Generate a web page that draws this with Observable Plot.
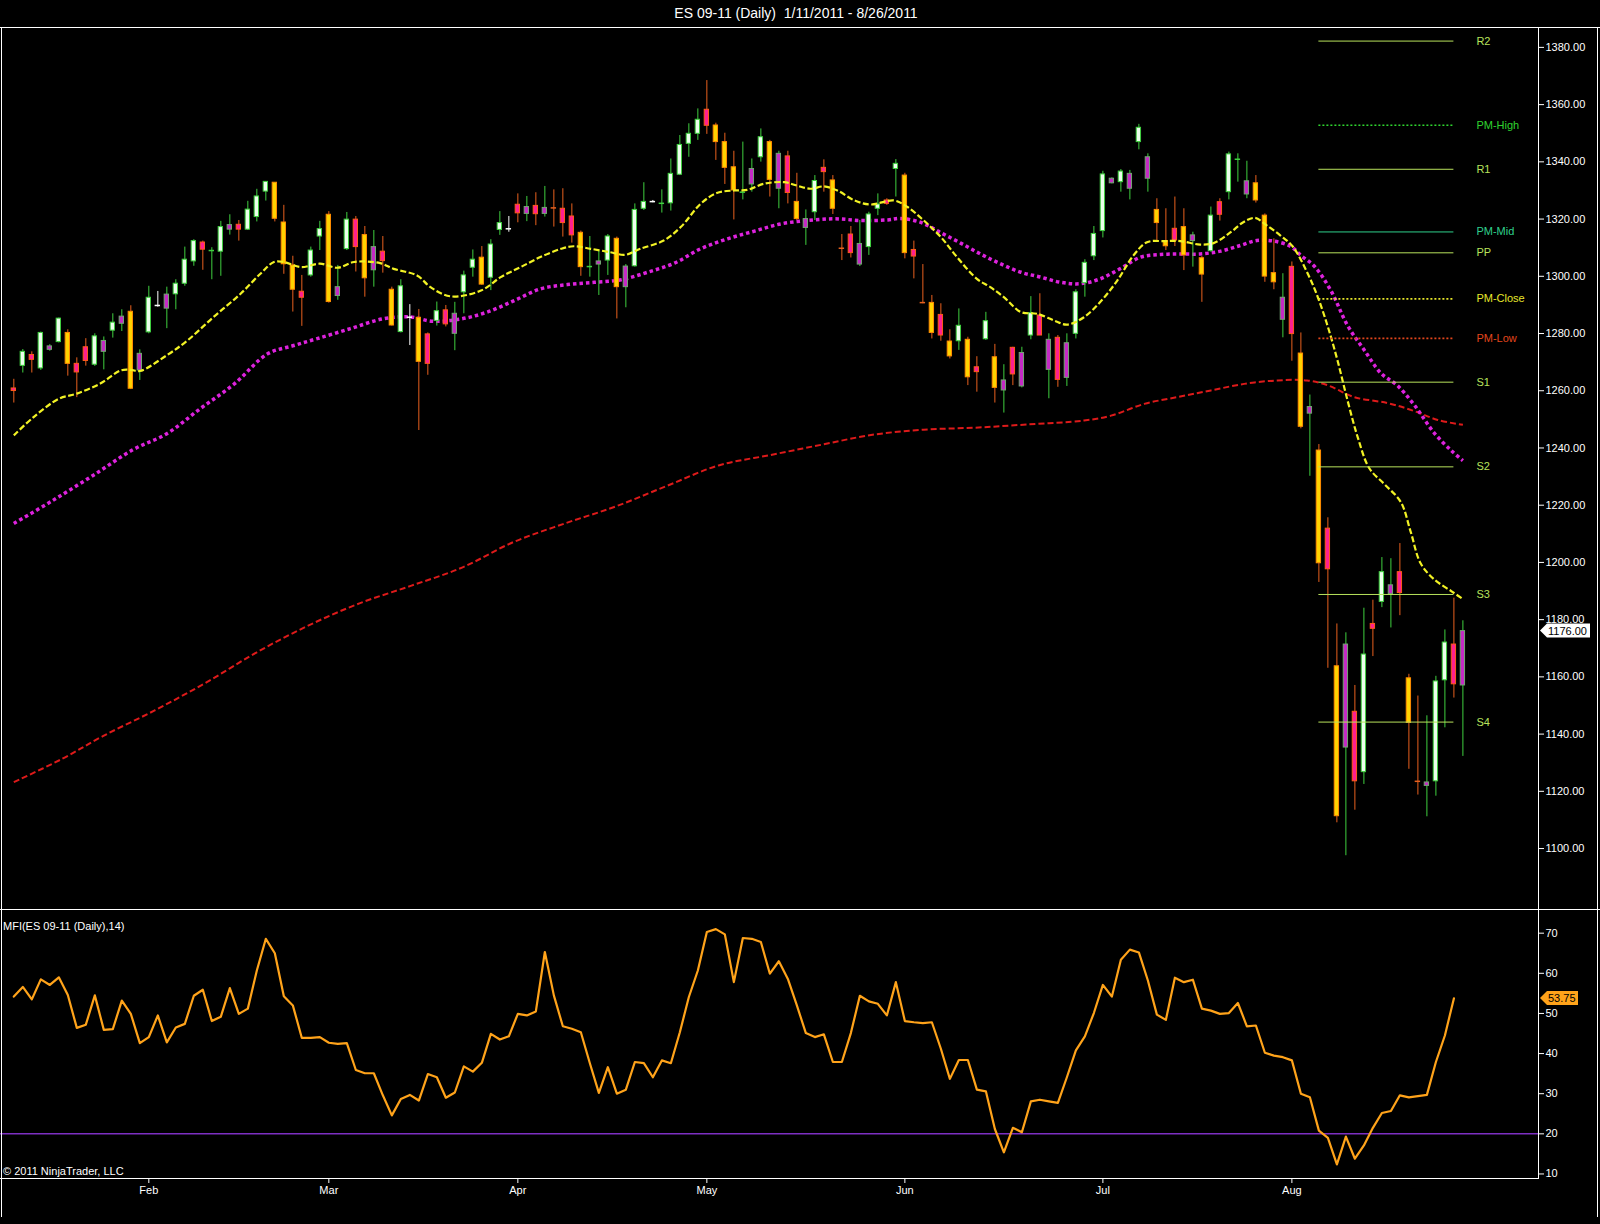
<!DOCTYPE html>
<html>
<head>
<meta charset="utf-8">
<script src="https://cdn.jsdelivr.net/npm/d3@7"></script>
<script src="https://cdn.jsdelivr.net/npm/@observablehq/plot@0.6"></script>
<style>
  html, body { margin: 0; padding: 0; background: #000; }
  #root { position: relative; width: 1600px; height: 1224px; background: #000; overflow: hidden;
          font-family: "Liberation Sans", Arial, sans-serif; }
  .ln { position: absolute; background: #fff; }
  .txt { position: absolute; color: #fff; white-space: nowrap; line-height: 1; }
  #title { position: absolute; top: 6px; left: 0; width: 1592px; text-align: center; color: #fff; font-size: 14px; line-height: 14px; }
  #main { position: absolute; left: 0; top: 28px; }
  #mfi { position: absolute; left: 0; top: 909px; }
</style>
</head>
<body>
<div id="root">
  <div id="title">ES 09-11 (Daily)&nbsp; 1/11/2011 - 8/26/2011</div>
  <div id="main"></div>
  <div id="mfi"></div>
  <div class="ln" style="left:0;top:27px;width:1600px;height:1px"></div>
  <div class="ln" style="left:0;top:909px;width:1600px;height:1px"></div>
  <div class="ln" style="left:0;top:1178px;width:1539px;height:1px"></div>
  <div class="ln" style="left:1538px;top:27px;width:1px;height:1152px"></div>
  <div class="ln" style="left:1px;top:27px;width:1px;height:1190px"></div>
  <div class="ln" style="left:1597px;top:27px;width:1px;height:1190px"></div>
  <div class="txt" style="left:3px;top:921px;font-size:11px">MFI(ES 09-11 (Daily),14)</div>
  <div class="txt" style="left:3px;top:1166px;font-size:11px">© 2011 NinjaTrader, LLC</div>
</div>
<script>
// ---------- DATA ----------
const kinds = ("P W P W G W Y P P W G W G Y G W DW G W W W P DG W G P W W W Y " +
  "Y Y P W W Y G W P Y G P Y W DW Y P W P G W W Y W W DW P G P G " +
  "DO P P Y DG G W Y G W W DW DG W W W W P Y Y Y DG G W Y G P Y " +
  "G W P Y DO P G W W P W Y P DO Y P Y W Y P W Y G P G W P G P G " +
  "W W W W G W G W G Y Y P Y G Y W P W DG G Y Y Y G P Y G Y P Y " +
  "G P W P W G P Y DO G W W P G").split(" ");

const opens = [1260.8,1268.7,1272.5,1267.8,1274.3,1277.0,1280.2,1269.4,1275.2,1269.1,
  1273.6,1281.0,1283.4,1287.6,1267.1,1280.4,1289.8,1288.7,1293.7,1297.4,
  1305.2,1311.8,1309.0,1308.6,1316.3,1318.0,1316.3,1320.7,1329.6,1332.7,
  1318.8,1303.8,1294.6,1300.3,1313.9,1321.5,1293.1,1309.5,1319.8,1314.4,
  1302.1,1308.6,1295.3,1280.5,1285.7,1285.5,1279.7,1284.4,1288.1,1279.9,
  1294.4,1303.0,1306.5,1299.5,1316.2,1316.6,1325.0,1321.8,1324.6,1321.8,
  1323.9,1323.6,1320.9,1315.2,1303.4,1304.1,1305.5,1313.1,1296.2,1303.5,
  1323.6,1326.1,1325.5,1325.5,1335.5,1346.3,1349.8,1358.2,1352.7,1346.9,
  1338.1,1329.4,1332.1,1341.6,1346.9,1330.6,1341.9,1326.0,1316.9,1322.4,
  1337.9,1333.5,1309.8,1314.6,1304.1,1310.2,1323.6,1326.5,1337.5,1335.2,
  1309.2,1290.8,1290.7,1286.5,1277.2,1277.3,1277.8,1268.2,1278.0,1271.7,
  1260.1,1275.0,1261.5,1279.3,1286.3,1267.3,1278.5,1264.5,1279.9,1297.6,
  1307.0,1315.8,1332.5,1332.9,1330.6,1346.9,1334.1,1323.2,1312.3,1316.6,
  1317.2,1312.3,1306.3,1308.8,1325.9,1329.4,1340.9,1328.6,1332.5,1321.2,
  1301.1,1284.8,1303.3,1273.0,1252.0,1239.1,1211.8,1163.7,1135.3,1147.8,
  1126.7,1178.5,1186.2,1188.9,1196.6,1159.5,1123.5,1121.9,1123.5,1158.8,
  1171.3,1157.0];
const highs = [1264.0,1274.4,1273.6,1280.5,1276.1,1285.4,1281.3,1271.5,1278.2,1279.9,
  1278.8,1286.9,1288.3,1289.7,1274.3,1296.5,1294.7,1296.2,1298.8,1310.2,
  1312.8,1312.3,1310.0,1319.2,1321.5,1319.5,1326.2,1330.4,1333.0,1332.7,
  1324.8,1307.0,1300.3,1310.2,1319.2,1322.6,1303.8,1322.3,1320.9,1317.4,
  1316.0,1313.9,1296.2,1298.8,1290.1,1288.4,1280.2,1291.0,1289.8,1290.9,
  1301.8,1309.2,1310.4,1312.8,1322.6,1320.9,1328.8,1327.9,1329.2,1331.4,
  1330.2,1330.6,1325.3,1315.8,1313.9,1309.0,1314.6,1313.7,1304.1,1325.3,
  1332.7,1326.5,1330.2,1341.0,1349.2,1353.3,1358.5,1368.4,1353.5,1350.0,
  1343.7,1346.9,1341.0,1351.5,1347.5,1343.7,1343.7,1336.0,1323.2,1335.2,
  1340.7,1335.2,1314.6,1317.4,1319.5,1322.4,1328.8,1327.1,1340.8,1336.0,
  1312.3,1304.1,1293.3,1290.4,1281.3,1288.6,1278.7,1271.9,1287.4,1276.2,
  1269.1,1275.2,1275.2,1292.9,1293.9,1279.9,1279.3,1279.9,1295.3,1305.8,
  1317.4,1336.7,1334.4,1337.3,1337.0,1353.1,1342.8,1327.1,1323.6,1327.7,
  1323.6,1315.4,1306.9,1324.2,1327.1,1343.4,1342.8,1340.2,1335.2,1321.8,
  1313.1,1300.9,1305.0,1280.2,1258.5,1241.2,1215.6,1178.5,1175.4,1157.0,
  1184.0,1186.8,1201.7,1201.3,1206.6,1160.9,1153.3,1146.4,1160.2,1176.4,
  1187.5,1179.6];
const lows = [1255.7,1266.2,1266.2,1267.1,1273.8,1276.7,1265.1,1257.6,1268.6,1268.5,
  1267.3,1278.4,1280.7,1260.4,1263.6,1279.9,1289.2,1281.7,1288.3,1296.5,
  1303.5,1302.1,1298.8,1300.0,1314.4,1312.3,1316.0,1319.0,1326.3,1319.0,
  1300.7,1287.5,1282.5,1299.7,1309.0,1290.6,1291.6,1309.0,1301.5,1292.7,
  1296.2,1301.1,1282.6,1280.2,1275.8,1246.1,1265.4,1282.6,1282.3,1274.0,
  1286.9,1299.7,1296.8,1295.0,1314.3,1315.4,1318.7,1319.1,1317.7,1320.7,
  1317.2,1313.7,1311.6,1300.0,1299.7,1293.3,1300.3,1285.1,1289.0,1303.2,
  1323.0,1325.7,1322.1,1322.8,1335.2,1341.6,1347.5,1349.6,1340.5,1332.1,
  1319.7,1326.7,1329.4,1339.9,1327.7,1323.6,1325.3,1319.5,1310.8,1319.5,
  1329.4,1321.6,1305.5,1306.4,1303.4,1307.3,1321.2,1324.8,1327.7,1306.1,
  1299.1,1290.4,1278.1,1277.3,1271.1,1274.1,1261.8,1259.5,1277.6,1255.7,
  1252.2,1261.8,1261.0,1277.8,1279.3,1257.2,1261.2,1261.5,1278.1,1292.7,
  1305.5,1313.4,1332.3,1329.4,1326.7,1344.2,1329.4,1312.5,1309.0,1310.4,
  1302.0,1303.2,1290.9,1308.4,1319.3,1326.7,1332.9,1327.1,1325.6,1297.9,
  1295.3,1278.5,1270.3,1246.7,1230.1,1193.0,1163.0,1109.0,1097.5,1113.4,
  1122.4,1167.1,1184.2,1177.1,1181.4,1127.7,1118.7,1111.1,1118.3,1142.2,
  1152.6,1132.2];
const closes = [1259.9,1273.6,1270.8,1280.2,1275.5,1285.2,1269.4,1266.4,1270.4,1279.0,
  1277.4,1283.8,1285.9,1260.7,1272.9,1292.5,1289.8,1293.6,1297.4,1305.8,
  1312.3,1309.3,1309.0,1317.2,1317.9,1316.3,1323.3,1327.9,1333.0,1320.1,
  1304.2,1295.3,1292.5,1309.0,1316.5,1291.0,1296.2,1319.8,1310.2,1299.3,
  1310.2,1305.3,1282.8,1296.5,1285.7,1270.1,1269.4,1287.8,1283.2,1286.9,
  1300.3,1305.8,1297.1,1311.1,1318.6,1316.6,1322.0,1324.2,1321.7,1323.9,
  1323.9,1318.6,1314.3,1303.2,1303.4,1305.2,1313.9,1296.2,1303.4,1323.2,
  1326.0,1326.1,1325.5,1335.8,1345.9,1349.8,1354.7,1352.6,1346.9,1337.9,
  1330.0,1329.4,1337.5,1348.6,1333.7,1342.8,1329.1,1320.0,1320.0,1333.3,
  1336.4,1323.6,1309.8,1308.1,1311.3,1321.6,1325.1,1325.3,1339.3,1308.1,
  1306.9,1290.8,1280.2,1279.3,1272.0,1282.7,1264.7,1266.5,1284.3,1261.0,
  1263.6,1265.7,1273.2,1287.1,1279.3,1277.8,1263.8,1276.6,1294.4,1304.7,
  1314.8,1335.6,1334.1,1336.6,1335.8,1351.9,1341.6,1318.6,1310.5,1312.5,
  1307.3,1314.3,1300.6,1321.2,1321.5,1342.6,1340.9,1333.2,1326.5,1299.9,
  1297.9,1292.5,1279.8,1247.4,1254.3,1199.7,1197.6,1111.3,1171.3,1123.5,
  1167.8,1176.8,1196.6,1192.0,1189.3,1143.9,1123.5,1123.1,1158.4,1172.0,
  1157.4,1176.0];

// moving averages (bar position, price)
const fastMaBars = [0,2.2,5,7,9.6,11.9,13,14,17,19.3,22.2,25.2,27.4,28.9,30,31.9,34,36,37.8,40.7,
  42.2,44.8,46.3,48.5,51.9,54.1,56.3,58.5,60.8,62.2,64.1,66.3,67.9,69.6,72.2,74.1,76.3,78.1,80,81.5,
  83.3,85.6,87,88.5,90,91.5,93.4,95.2,97.8,99.3,101.1,103,104.8,107,108.5,110,111.9,113.7,115.6,117,
  118.9,120.7,122.6,124.4,125.9,127.8,129.6,131.8,133.3,135.2,136.6,137.9,139.2,140.7,142.1,143.9,145,146.1,147.1,148.2,
  149.3,150.6,152.3,154.1,155.2,156.3,157.8,159.7,161];
const fastMa = [1244.4,1250.8,1257.2,1259.0,1262.5,1267.1,1267.3,1266.9,1272.4,1277.6,1285.8,1293.9,1300.9,1305.0,1305.0,1303.2,1304.4,1303.0,1305.0,1304.6,
  1302.6,1300.3,1296.2,1293.0,1295.0,1299.7,1303.2,1306.7,1309.6,1310.5,1309.6,1308.4,1307.5,1309.6,1312.5,1317.2,1325.3,1329.1,1330.0,1330.2,
  1332.3,1332.9,1331.7,1330.6,1331.4,1330.0,1326.5,1325.1,1326.5,1324.2,1319.5,1313.7,1306.7,1299.1,1296.2,1292.7,1287.5,1286.9,1284.5,1283.1,
  1285.7,1291.0,1298.5,1307.3,1311.9,1312.3,1312.3,1311.1,1311.6,1315.4,1318.9,1320.4,1317.8,1314.3,1310.4,1300.0,1291.7,1281.3,1270.2,1256.4,
  1243.9,1232.9,1227.3,1221.1,1210.7,1199.7,1194.1,1190.0,1187.2];

const midMaBars = [0,4.2,8.8,13.3,17,20.7,24.5,28.2,31.1,33.7,37.4,41.1,44.1,46.5,49.7,52.6,55.6,58.5,61.5,64.5,
  67.5,70.4,73.4,76.3,79.3,82.3,85.2,88.2,91.2,94.1,97.1,98.5,100.7,102.9,105.2,107.4,109.6,111.9,114.1,116.3,
  118.5,120.7,122.9,125.2,127.4,129.6,131.8,134.1,136.3,138.1,140,141.9,143,144.5,146.3,148.2,150,151.9,153.7,155.6,
  157.8,159.7,161];
const midMa = [1213.6,1221.4,1230.4,1239.5,1245.0,1253.7,1262.4,1272.9,1275.8,1278.2,1281.7,1285.2,1285.8,1284.3,1285.1,1287.5,1291.5,1295.6,1297.1,1297.9,
  1298.8,1301.4,1304.6,1309.6,1313.1,1315.8,1318.3,1319.5,1320.1,1319.5,1319.7,1320.2,1318.9,1315.4,1311.6,1307.8,1304.4,1301.4,1299.7,1297.9,
  1297.4,1299.1,1302.6,1306.7,1307.6,1307.8,1307.8,1308.8,1310.8,1312.5,1312.3,1310.4,1307.3,1303.5,1295.2,1282.7,1274.4,1266.1,1261.9,1255.0,
  1245.3,1239.1,1235.6];

const slowMaBars = [0,5.4,9.9,15.6,21.3,27,32.7,38.4,44.1,49.8,55.5,61.2,66.9,72.6,78.3,84,89.7,95.4,101.1,106.8,
  112.5,118.9,121.9,125.6,129.3,133,136.7,140.4,143.7,146,148.9,152.6,155.6,158.2,161];
const slowMa = [1123.2,1131.4,1139.3,1148.2,1157.9,1168.6,1177.9,1185.7,1191.8,1198.2,1207.1,1213.6,1219.6,1226.8,1233.9,1237.5,1241.1,1244.6,1246.4,1247.1,
  1248.2,1249.6,1251.3,1255.4,1257.8,1260.1,1262.4,1263.6,1263.6,1261.9,1257.8,1255.7,1252.9,1249.8,1248.1];

// pivot levels
const levelNames  = ["R2","PM-High","R1","PM-Mid","PP","PM-Close","PM-Low","S1","S2","S3","S4"];
const levelValues = [1382.2,1352.8,1337.4,1315.5,1308.2,1292.1,1278.3,1263.0,1233.4,1188.8,1144.2];
const levelDotted = [false,true,false,false,false,true,true,false,false,false,false];
const levelColors = ["#b8e25c","#2fd42f","#b8e25c","#2fd08c","#b8e25c","#e6e62a","#e2461c","#b8e25c","#b8e25c","#b8e25c","#b8e25c"];
const levelFrom = 145, levelTo = 160, levelLabelAt = 162.5;

// money flow index (bars 0..160)
const mfi = [54.2,56.6,53.5,58.5,57.1,59.0,54.6,46.4,47.2,54.5,
  45.9,46.1,53.2,49.9,42.6,44.1,49.5,42.8,46.5,47.4,
  54.4,55.9,48.1,49.2,56.3,49.9,51.2,60.7,68.6,65.0,
  54.3,52.0,43.9,43.9,44.1,42.7,42.4,42.6,35.9,35.1,
  35.1,29.6,24.6,28.7,29.7,28.3,34.9,34.1,29.0,30.3,
  36.8,35.5,37.7,44.9,43.5,44.3,49.9,49.5,50.5,65.3,
  54.5,46.8,46.2,45.3,37.6,30.2,36.6,30.0,31.0,37.9,
  37.6,34.1,38.3,37.6,45.3,54.1,60.7,70.3,71.0,69.7,
  57.8,68.8,68.6,67.8,59.9,63.0,58.6,52.0,45.1,44.1,
  44.8,37.9,37.9,45.1,54.4,53.0,52.4,49.5,57.8,48.1,
  47.8,47.6,47.8,41.2,33.7,38.4,38.4,31.0,30.6,21.2,
  15.4,21.5,20.4,28.1,28.5,28.1,27.7,34.1,40.8,44.3,
  50.1,57.1,54.2,63.4,65.9,65.2,58.2,49.7,48.4,58.9,
  57.8,58.4,51.2,50.7,49.9,50.1,52.6,46.8,47.0,40.2,
  39.5,39.1,38.3,30.0,29.1,20.8,19.0,12.4,19.3,13.8,
  17.1,21.5,25.2,25.7,29.6,29.1,29.4,29.7,37.9,44.5,
  53.75];
const mfiThreshold = 20;

const monthTicks  = [15, 35, 56, 77, 99, 121, 142];
const monthLabels = ["Feb","Mar","Apr","May","Jun","Jul","Aug"];
const priceTicks  = d3.range(1100, 1381, 20);
const mfiTicks    = [10, 20, 30, 40, 50, 60, 70];
const lastPrice = 1176.00, lastMfi = 53.75;

// ---------- STYLE ----------
const FONT = '"Liberation Sans", Arial, sans-serif';
const bodyFill   = {W:"#ecffec", Y:"#ffd200", P:"#ff1f8f", G:"#c52ac5"};
const bodyStroke = {W:"#3fcf3f", Y:"#ff8c00", P:"#ff5a1a", G:"#74a474"};
const wickColor  = {W:"#3fcf3f", G:"#3fcf3f", Y:"#e8601e", P:"#e8601e", DW:"#ffffff", DG:"#3fcf3f", DO:"#e8601e"};
const xDomain = [-1.48, 169.4];

// ---------- BUILD ----------
const candles = opens.map((o, i) => ({
  i, o, h: highs[i], l: lows[i], c: closes[i], k: kinds[i],
  top: Math.max(o, closes[i]), bot: Math.min(o, closes[i])
}));
const bodies = candles.filter(d => !d.k.startsWith("D"));
const dojis  = candles.filter(d => d.k.startsWith("D"));
const toPts = (bars, vals) => bars.map((b, j) => ({b, v: vals[j]}));
const levels = levelNames.map((name, j) => ({name, value: levelValues[j], dotted: levelDotted[j], color: levelColors[j]}));

function tag(value, text, fill, w) {
  return (index, scales, values, dimensions) => {
    const y = scales.y(value);
    const x0 = dimensions.width - dimensions.marginRight + 2;
    const g = d3.create("svg:g");
    g.append("path")
      .attr("d", `M${x0},${y} L${x0 + 7},${y - 7} L${x0 + w},${y - 7} L${x0 + w},${y + 7} L${x0 + 7},${y + 7} Z`)
      .attr("fill", fill);
    g.append("text").attr("x", x0 + 8).attr("y", y).attr("dy", "0.36em")
      .attr("text-anchor", "start")
      .attr("font-size", 11).attr("font-family", FONT).attr("fill", "#000").text(text);
    return g.node();
  };
}

const main = Plot.plot({
  width: 1600, height: 881,
  marginTop: 0, marginBottom: 0, marginLeft: 0, marginRight: 62,
  x: {domain: xDomain, axis: null},
  y: {domain: [1078.7, 1386.6], axis: null},
  color: {type: "identity"},
  style: {background: "transparent", color: "#fff", fontFamily: FONT, fontSize: "11px", overflow: "visible"},
  marks: [
    Plot.line(toPts(slowMaBars, slowMa), {x: "b", y: "v", stroke: "#dd1a1a", strokeWidth: 2, strokeDasharray: "6,3", strokeLinecap: "butt", curve: "catmull-rom"}),
    Plot.line(toPts(midMaBars, midMa), {x: "b", y: "v", stroke: "#dd22dd", strokeWidth: 3.5, strokeDasharray: "3.5,3", strokeLinecap: "butt", curve: "catmull-rom"}),
    Plot.ruleX(candles, {x: "i", y1: "l", y2: "h", stroke: d => wickColor[d.k], strokeWidth: 1}),
    Plot.rect(bodies, {x1: d => d.i - 0.24, x2: d => d.i + 0.24, y1: "bot", y2: "top",
      fill: d => bodyFill[d.k], stroke: d => bodyStroke[d.k], strokeWidth: 1}),
    Plot.ruleY(dojis, {y: "o", x1: d => d.i - 0.3, x2: d => d.i + 0.3, stroke: d => wickColor[d.k], strokeWidth: 1.5}),
    Plot.line(toPts(fastMaBars, fastMa), {x: "b", y: "v", stroke: "#f2f224", strokeWidth: 2.2, strokeDasharray: "6,2.5", strokeLinecap: "butt", curve: "catmull-rom"}),
    Plot.ruleY(levels.filter(d => !d.dotted), {y: "value", x1: levelFrom, x2: levelTo, stroke: "color", strokeWidth: 1}),
    Plot.ruleY(levels.filter(d => d.dotted), {y: "value", x1: levelFrom, x2: levelTo, stroke: "color", strokeWidth: 1.6, strokeDasharray: "2,2"}),
    Plot.text(levels, {x: levelLabelAt, y: "value", text: "name", fill: "color", textAnchor: "start", fontSize: 11}),
    Plot.axisY({anchor: "right", label: null, ticks: priceTicks, tickFormat: d => d.toFixed(2), tickSize: 5, tickPadding: 2, fontSize: 11, stroke: "#fff", fill: "#fff"}),
    tag(lastPrice, lastPrice.toFixed(2), "#ffffff", 50)
  ]
});
document.getElementById("main").append(main);

const mfiPts = mfi.map((v, i) => ({i, v}));
const monthMap = new Map(monthTicks.map((t, j) => [t, monthLabels[j]]));
const lower = Plot.plot({
  width: 1600, height: 315,
  marginTop: 0, marginBottom: 46, marginLeft: 0, marginRight: 62,
  x: {domain: xDomain, axis: null},
  y: {domain: [8.87, 75.9], axis: null},
  style: {background: "transparent", color: "#fff", fontFamily: FONT, fontSize: "11px", overflow: "visible"},
  marks: [
    Plot.ruleY([mfiThreshold], {stroke: "#7d2fc2", strokeWidth: 1.5}),
    Plot.line(mfiPts, {x: "i", y: "v", stroke: "#ffa31a", strokeWidth: 2.2}),
    Plot.axisY({anchor: "right", label: null, ticks: mfiTicks, tickSize: 5, tickPadding: 2, fontSize: 11, stroke: "#fff", fill: "#fff"}),
    Plot.axisX({anchor: "bottom", label: null, ticks: monthTicks, tickFormat: d => monthMap.get(d), tickSize: 5, tickPadding: 3, fontSize: 11, stroke: "#fff", fill: "#fff"}),
    tag(lastMfi, lastMfi.toFixed(2), "#ffa31a", 38)
  ]
});
document.getElementById("mfi").append(lower);
</script>
</body>
</html>
